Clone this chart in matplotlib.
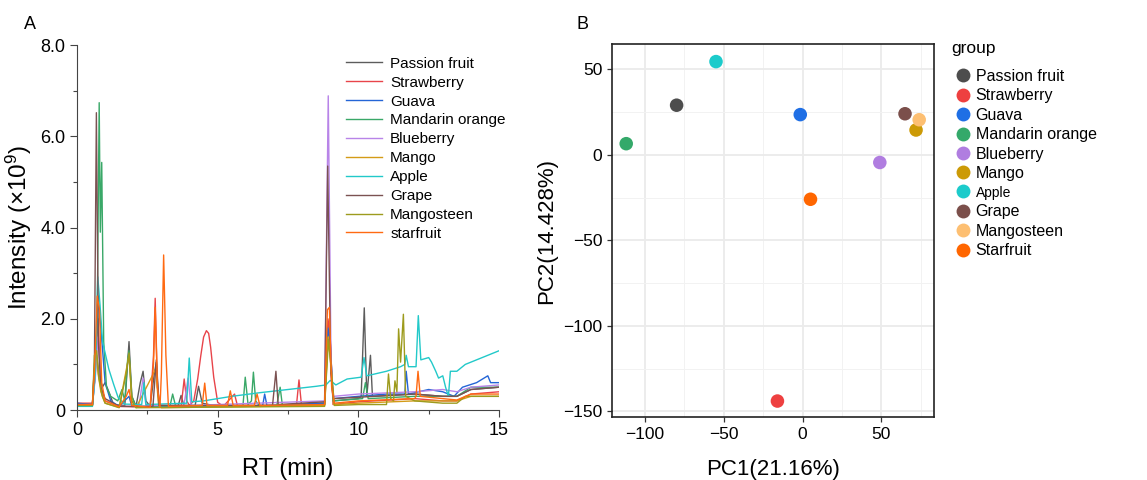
import matplotlib
matplotlib.use("Agg")
import matplotlib.pyplot as plt
from matplotlib.lines import Line2D
from matplotlib.ticker import MultipleLocator

plt.rcParams["font.family"] = ["Liberation Sans", "DejaVu Sans"]
plt.rcParams["mathtext.default"] = "regular"

# ---- panel A: chromatograms, (RT min, intensity x1e9) vertices
passion_fruit = [(0, 0.12), (0.55, 0.12), (0.62, 0.9), (0.7, 1.2), (0.78, 0.8), (0.9, 0.5), (1.0, 0.6),
                 (1.1, 0.45), (1.3, 0.12), (1.7, 0.1), (1.85, 1.5), (1.95, 0.3), (2.1, 0.08), (2.25, 0.6),
                 (2.35, 0.85), (2.45, 0.2), (2.6, 0.08), (2.75, 0.8), (2.82, 1.05), (2.9, 0.2), (3.0, 0.07),
                 (3.6, 0.1), (3.7, 0.32), (3.8, 0.1), (4.2, 0.1), (4.32, 0.52), (4.45, 0.15), (5.0, 0.08),
                 (7.0, 0.1), (8.8, 0.15), (8.9, 1.8), (9.0, 1.5), (9.1, 0.2), (10.0, 0.25), (10.1, 0.3),
                 (10.21, 2.24), (10.3, 0.3), (10.43, 1.2), (10.5, 0.3), (12.0, 0.35), (13.0, 0.3),
                 (13.5, 0.3), (14.0, 0.45), (15.0, 0.5)]
strawberry = [(0, 0.15), (0.55, 0.15), (0.65, 1.0), (0.75, 2.0), (0.85, 0.5), (1.0, 0.2), (1.5, 0.08),
              (2.6, 0.06), (2.72, 1.2), (2.78, 2.45), (2.86, 0.5), (2.95, 0.06), (3.7, 0.06), (3.81, 0.68),
              (3.9, 0.2), (4.0, 0.1), (4.15, 0.2), (4.29, 0.68), (4.4, 1.19), (4.5, 1.6), (4.6, 1.74),
              (4.68, 1.68), (4.75, 1.38), (4.86, 0.72), (5.0, 0.17), (5.2, 0.08), (5.6, 0.35), (5.7, 0.1),
              (7.8, 0.1), (7.89, 0.66), (7.98, 0.1), (8.8, 0.12), (8.92, 2.0), (9.0, 1.6), (9.1, 0.12),
              (10.0, 0.18), (12.0, 0.25), (13.0, 0.2), (13.5, 0.2), (14.0, 0.35), (15.0, 0.4)]
guava = [(0, 0.15), (0.55, 0.12), (0.65, 0.8), (0.75, 2.5), (0.82, 2.0), (0.9, 1.4), (1.0, 0.6), (1.2, 0.2),
         (1.5, 0.08), (1.85, 0.3), (1.95, 0.08), (3.5, 0.08), (6.0, 0.08), (6.6, 0.1), (6.67, 0.35),
         (6.75, 0.1), (8.8, 0.15), (8.92, 1.8), (9.0, 1.5), (9.1, 0.25), (10.0, 0.3), (11.0, 0.35),
         (11.65, 0.35), (11.7, 0.85), (11.78, 0.35), (12.5, 0.45), (13.0, 0.4), (13.4, 0.3), (13.7, 0.5),
         (14.2, 0.6), (14.6, 0.75), (14.7, 0.6), (15.0, 0.6)]
mandarin_orange = [(0, 0.1), (0.55, 0.1), (0.65, 0.8), (0.72, 2.0), (0.79, 6.74), (0.83, 3.9), (0.88, 5.43),
                   (0.95, 1.5), (1.05, 0.5), (1.2, 0.3), (1.45, 0.2), (1.6, 0.45), (1.7, 0.2), (1.8, 1.1),
                   (1.85, 1.3), (1.95, 0.3), (2.1, 0.07), (3.3, 0.07), (3.4, 0.35), (3.5, 0.1), (5.8, 0.08),
                   (5.9, 0.1), (5.98, 0.72), (6.08, 0.12), (6.2, 0.2), (6.27, 0.83), (6.35, 0.2), (6.5, 0.08),
                   (7.1, 0.1), (7.22, 0.5), (7.3, 0.1), (8.8, 0.12), (8.92, 1.6), (9.0, 1.3), (9.1, 0.2),
                   (10.15, 0.25), (10.25, 0.6), (10.35, 0.25), (12.0, 0.3), (13.0, 0.3), (13.5, 0.3),
                   (14.0, 0.5), (15.0, 0.5)]
blueberry = [(0, 0.12), (0.55, 0.12), (0.65, 0.7), (0.75, 1.6), (0.85, 0.5), (1.0, 0.2), (1.5, 0.08),
             (2.2, 0.08), (2.35, 0.7), (2.45, 0.1), (3.8, 0.1), (3.95, 0.7), (4.05, 0.1), (8.8, 0.2),
             (8.93, 6.89), (9.03, 1.0), (9.12, 0.3), (10.0, 0.35), (12.0, 0.4), (13.0, 0.45), (13.5, 0.4),
             (14.0, 0.5), (15.0, 0.55)]
mango = [(0, 0.1), (0.55, 0.1), (0.62, 1.0), (0.68, 1.3), (0.75, 0.8), (0.85, 0.4), (1.0, 0.15), (1.5, 0.06),
         (1.85, 1.2), (1.95, 0.2), (2.1, 0.05), (2.8, 0.9), (2.9, 0.1), (3.0, 0.05), (8.8, 0.1), (8.93, 1.6),
         (9.05, 0.8), (9.12, 0.12), (10.0, 0.15), (12.0, 0.2), (13.0, 0.2), (13.5, 0.2), (14.0, 0.3),
         (15.0, 0.3)]
apple = [(0, 0.08), (0.55, 0.08), (0.65, 0.8), (0.74, 2.92), (0.82, 2.3), (0.91, 1.5), (1.02, 1.2),
         (1.13, 0.9), (1.3, 0.57), (1.46, 0.28), (1.68, 0.13), (2.3, 0.12), (2.38, 0.6), (2.45, 0.12),
         (3.9, 0.15), (3.99, 1.14), (4.08, 0.18), (4.5, 0.2), (5.5, 0.3), (6.5, 0.38), (7.5, 0.45),
         (8.5, 0.52), (8.85, 0.55), (9.0, 0.65), (9.2, 0.55), (9.6, 0.68), (10.1, 0.72), (10.2, 1.15),
         (10.3, 0.75), (11.0, 0.85), (11.5, 0.95), (11.65, 1.0), (11.7, 1.2), (11.78, 0.95), (12.05, 0.95),
         (12.13, 2.07), (12.22, 1.1), (12.5, 1.15), (12.6, 1.05), (12.75, 0.85), (12.85, 0.7), (13.0, 0.75),
         (13.1, 0.5), (13.2, 0.3), (13.27, 0.85), (13.5, 0.85), (13.8, 1.0), (14.2, 1.1), (14.6, 1.2),
         (15.0, 1.3)]
grape = [(0, 0.12), (0.55, 0.12), (0.62, 1.0), (0.69, 6.52), (0.76, 1.5), (0.85, 0.5), (1.0, 0.25),
         (1.5, 0.08), (2.7, 0.08), (2.82, 1.1), (2.92, 0.1), (6.95, 0.1), (7.07, 0.85), (7.15, 0.12),
         (8.8, 0.18), (8.91, 5.35), (9.02, 0.8), (9.12, 0.25), (10.0, 0.28), (12.0, 0.35), (13.0, 0.3),
         (13.5, 0.3), (14.0, 0.45), (15.0, 0.5)]
mangosteen = [(0, 0.1), (0.55, 0.1), (0.62, 1.2), (0.7, 1.3), (0.78, 0.7), (0.9, 0.3), (1.0, 0.15),
              (1.5, 0.05), (1.75, 0.8), (1.85, 1.25), (1.95, 0.2), (2.1, 0.05), (8.8, 0.08), (8.94, 1.55),
              (9.05, 0.8), (9.15, 0.1), (10.0, 0.12), (11.0, 0.12), (11.07, 0.79), (11.15, 0.25),
              (11.25, 0.2), (11.3, 0.64), (11.37, 0.4), (11.43, 1.78), (11.5, 1.05), (11.6, 2.1),
              (11.68, 0.3), (12.0, 0.2), (13.0, 0.15), (13.5, 0.15), (13.8, 0.3), (15.0, 0.3)]
starfruit = [(0, 0.12), (0.55, 0.12), (0.62, 0.8), (0.72, 2.5), (0.8, 2.2), (0.88, 0.6), (1.0, 0.2),
             (1.5, 0.07), (1.75, 0.3), (1.85, 0.45), (1.95, 0.1), (2.6, 0.06), (2.72, 1.0), (2.78, 2.25),
             (2.86, 0.5), (2.95, 0.06), (3.0, 0.8), (3.08, 3.4), (3.16, 1.2), (3.25, 0.08), (4.45, 0.1),
             (4.54, 0.59), (4.62, 0.1), (5.35, 0.1), (5.45, 0.42), (5.55, 0.1), (6.3, 0.1), (6.4, 0.35),
             (6.5, 0.1), (8.8, 0.12), (8.9, 2.2), (8.97, 2.25), (9.05, 0.5), (9.15, 0.15), (10.0, 0.2),
             (12.0, 0.25), (12.05, 0.3), (12.12, 0.85), (12.2, 0.3), (13.0, 0.25), (13.5, 0.22),
             (14.0, 0.35), (15.0, 0.35)]

chrom_labels = ["Passion fruit", "Strawberry", "Guava", "Mandarin orange", "Blueberry",
                "Mango", "Apple", "Grape", "Mangosteen", "starfruit"]
chrom_series = [passion_fruit, strawberry, guava, mandarin_orange, blueberry,
                mango, apple, grape, mangosteen, starfruit]
chrom_colors = ["#5c5c5c", "#e8444a", "#2465d6", "#3aa868", "#b884e8",
                "#d49b17", "#22c9c9", "#7b5252", "#9d9b1d", "#ff6a12"]

# ---- panel B: PCA scores
groups = ["Passion fruit", "Strawberry", "Guava", "Mandarin orange", "Blueberry",
          "Mango", "Apple", "Grape", "Mangosteen", "Starfruit"]
pc1 = [-80, -16, -1.5, -112, 49, 72, -55, 65, 74, 5]
pc2 = [29, -144, 23.5, 6.5, -4.5, 14.5, 54.5, 24, 20.5, -26]
pca_colors = ["#4d4d4d", "#ee4040", "#1f6fe5", "#34a96a", "#b07de0",
              "#cc9a06", "#1ccbcb", "#7b4f4b", "#fdbf72", "#ff6600"]

fig = plt.figure(figsize=(11.47, 4.8), dpi=100)

# panel A
ax1 = fig.add_axes([0.0671, 0.1458, 0.368, 0.760])
for pts, lab, col in zip(chrom_series, chrom_labels, chrom_colors):
    ax1.plot([p[0] for p in pts], [p[1] for p in pts], color=col, lw=1.0, label=lab)
ax1.set_xlim(0, 15)
ax1.set_ylim(0, 8)
ax1.set_xticks([0, 5, 10, 15])
ax1.xaxis.set_minor_locator(MultipleLocator(2.5))
ax1.set_yticks([0, 2, 4, 6, 8], ["0", "2.0", "4.0", "6.0", "8.0"])
ax1.yaxis.set_minor_locator(MultipleLocator(1))
for s in ["top", "right"]:
    ax1.spines[s].set_visible(False)
for s in ["left", "bottom"]:
    ax1.spines[s].set_color("#444444")
    ax1.spines[s].set_linewidth(0.8)
ax1.tick_params(which="major", length=5, width=0.8, color="#444444", labelsize=13)
ax1.tick_params(which="minor", length=3, width=0.8, color="#444444")
ax1.set_xlabel("RT (min)", fontsize=17, labelpad=14)
ax1.set_ylabel("Intensity (×10$^9$)", fontsize=17.5, labelpad=4)
ax1.legend(loc="upper right", bbox_to_anchor=(1.03, 0.985), frameon=False, fontsize=11,
           handlelength=2.4, handletextpad=0.5, labelspacing=0.32, borderaxespad=0)
fig.text(0.021, 0.94, "A", fontsize=13)

# panel B
ax2 = fig.add_axes([0.5336, 0.131, 0.2807, 0.777])
ax2.set_xlim(-121, 83.4)
ax2.set_ylim(-153.4, 64.7)
ax2.set_xticks([-100, -50, 0, 50])
ax2.set_yticks([-150, -100, -50, 0, 50])
ax2.xaxis.set_minor_locator(MultipleLocator(25))
ax2.yaxis.set_minor_locator(MultipleLocator(25))
ax2.grid(which="major", color="#ebebeb", lw=1.3)
ax2.grid(which="minor", color="#f2f2f2", lw=0.7)
ax2.set_axisbelow(True)
for s in ax2.spines.values():
    s.set_color("#222222")
    s.set_linewidth(1.2)
ax2.tick_params(which="major", length=3.5, width=0.9, color="#333333", labelsize=12.5)
ax2.tick_params(which="minor", length=0)
for x, y, col in zip(pc1, pc2, pca_colors):
    ax2.scatter(x, y, s=95, color=col, edgecolors="none", zorder=3)
ax2.set_xticklabels(["\u2212100", "\u221250", "0", "50"])
ax2.set_yticklabels(["\u2212150", "\u2212100", "\u221250", "0", "50"])
ax2.set_xlabel("PC1(21.16%)", fontsize=16, labelpad=12)
ax2.set_ylabel("PC2(14.428%)", fontsize=16, labelpad=4)
fig.text(0.503, 0.94, "B", fontsize=13)

handles = [Line2D([], [], ls="none", marker="o", ms=10, mfc=c, mec="none") for c in pca_colors]
leg = ax2.legend(handles, groups, title="group", loc="upper left", bbox_to_anchor=(1.035, 1.025),
                 frameon=False, fontsize=11.5, title_fontsize=12.5, handletextpad=0.1,
                 labelspacing=0.28, borderaxespad=0, handlelength=1.4)
leg._legend_box.align = "left"
leg._legend_box.sep = 9
for t in leg.get_texts():
    if t.get_text() == "Apple":
        t.set_fontsize(10)

fig.savefig("out.png", dpi=100)
